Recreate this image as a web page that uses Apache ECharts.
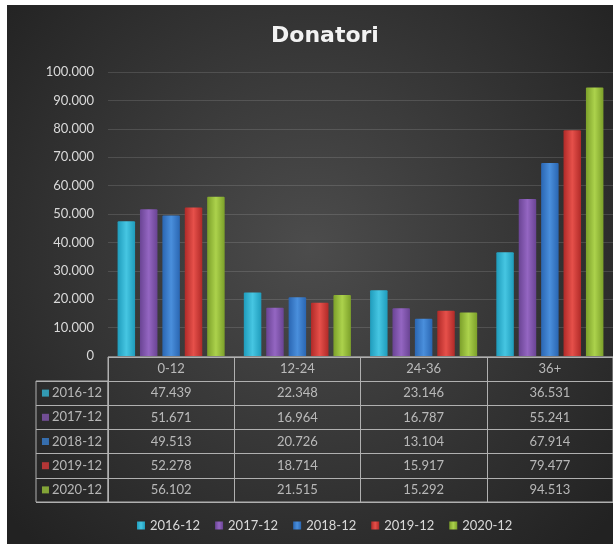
<!DOCTYPE html>
<html>
<head>
<meta charset="utf-8">
<script src="https://cdn.jsdelivr.net/npm/echarts@6/dist/echarts.min.js"></script>
<style>
html,body{margin:0;padding:0;background:#fff;}
#c{width:613px;height:544px;}
</style>
</head>
<body>
<div id="c"></div>
<script>
var categories = ['0-12', '12-24', '24-36', '36+'];
var seriesNames = ['2016-12', '2017-12', '2018-12', '2019-12', '2020-12'];
var v2016 = [47439, 22348, 23146, 36531];
var v2017 = [51671, 16964, 16787, 55241];
var v2018 = [49513, 20726, 13104, 67914];
var v2019 = [52278, 18714, 15917, 79477];
var v2020 = [56102, 21515, 15292, 94513];
var yTicks = [0, 10000, 20000, 30000, 40000, 50000, 60000, 70000, 80000, 90000, 100000];

var values = [v2016, v2017, v2018, v2019, v2020];
var colors = [
  ['#1f9cbc', '#46c6e2'],
  ['#6a4494', '#9466c2'],
  ['#2a66b2', '#4a8fdc'],
  ['#b02a28', '#e6504a'],
  ['#7ca02a', '#acd24c']
];
var flat = ['#34b6d6', '#8458b0', '#3a7fd0', '#d43a3a', '#9bc43c'];
var FONT = 'Lato';
var TXT = '#d9d9d9';
var LINE = '#b0b0b0';

function fmt(v) { return String(v).replace(/\B(?=(\d{3})+(?!\d))/g, '.'); }
function grad(i) {
  return new echarts.graphic.LinearGradient(0, 0, 1, 0, [
    {offset: 0, color: colors[i][0]},
    {offset: 0.5, color: colors[i][1]},
    {offset: 1, color: colors[i][0]}
  ]);
}

var chart = echarts.init(document.getElementById('c'), null, {renderer: 'canvas'});

var series = [];
seriesNames.forEach(function (n, i) {
  series.push({
    name: n, type: 'bar', xAxisIndex: 0, yAxisIndex: 0,
    data: values[i], barWidth: 17.5, barGap: '28%',
    itemStyle: {color: grad(i), borderRadius: [1, 1, 0, 0]},
    emphasis: {disabled: true}
  });
});

var cellData = [];
categories.forEach(function (c) { cellData.push([c, 'hdr', c]); });
seriesNames.forEach(function (n, i) {
  categories.forEach(function (c, j) { cellData.push([c, n, fmt(values[i][j])]); });
});
series.push({
  name: 'cells', type: 'scatter', xAxisIndex: 1, yAxisIndex: 1,
  data: cellData, symbolSize: 0.1, itemStyle: {color: 'transparent'},
  label: {show: true, position: 'inside', formatter: function (p) { return p.value[2]; },
    color: TXT, fontSize: 13, fontFamily: FONT},
  silent: true
});

var rich = {t: {color: TXT, fontSize: 13, fontFamily: FONT, padding: [0, 0, 0, 3]}};
seriesNames.forEach(function (n, i) {
  rich['i' + i] = {width: 7, height: 7, backgroundColor: flat[i]};
});
series.push({
  name: 'rows', type: 'scatter', xAxisIndex: 2, yAxisIndex: 2,
  data: seriesNames.map(function (n, i) { return ['', n, i]; }),
  symbolSize: 0.1, itemStyle: {color: 'transparent'},
  label: {show: true, position: 'inside',
    formatter: function (p) { return '{i' + p.value[2] + '|}{t|' + p.value[1] + '}'; },
    rich: rich},
  silent: true
});

chart.setOption({
  animation: false,
  backgroundColor: '#ffffff',
  graphic: [{
    type: 'rect', z: -100, silent: true,
    shape: {x: 7, y: 5, width: 606, height: 539},
    style: {fill: new echarts.graphic.RadialGradient(0.5, 0.45, 0.75, [
      {offset: 0, color: '#4c4c4c'}, {offset: 1, color: '#222222'}])}
  }],
  title: {
    text: 'Donatori', left: 266, top: 20,
    textStyle: {color: '#f2f2f2', fontSize: 22, fontWeight: 'bold', fontFamily: 'DejaVu Sans'}
  },
  legend: {
    data: seriesNames, left: 132, top: 514,
    itemWidth: 8, itemHeight: 8, itemGap: 15, icon: 'rect',
    textStyle: {color: TXT, fontSize: 13, fontFamily: FONT}
  },
  grid: [
    {left: 108, top: 72, width: 507, height: 284},
    {left: 108, top: 357, width: 507, height: 145, show: true, borderColor: LINE, borderWidth: 1, backgroundColor: 'transparent'},
    {left: 36, top: 381, width: 72, height: 121, show: true, borderColor: LINE, borderWidth: 1, backgroundColor: 'transparent'}
  ],
  xAxis: [
    {type: 'category', gridIndex: 0, data: categories, axisLine: {show: false}, axisTick: {show: false}, axisLabel: {show: false}},
    {type: 'category', gridIndex: 1, data: categories, boundaryGap: true, axisLine: {show: false}, axisTick: {show: false}, axisLabel: {show: false},
      splitLine: {show: true, interval: 0, lineStyle: {color: LINE, width: 1}}},
    {type: 'category', gridIndex: 2, data: [''], axisLine: {show: false}, axisTick: {show: false}, axisLabel: {show: false}}
  ],
  yAxis: [
    {type: 'value', gridIndex: 0, min: 0, max: 100000, interval: 10000,
      axisLine: {show: false}, axisTick: {show: false},
      axisLabel: {color: TXT, fontSize: 13, fontFamily: FONT, margin: 14, formatter: function (v) { return fmt(v); }},
      splitLine: {lineStyle: {color: 'rgba(255,255,255,0.13)', width: 1}}},
    {type: 'category', gridIndex: 1, data: ['hdr'].concat(seriesNames), inverse: true, boundaryGap: true,
      axisLine: {show: false}, axisTick: {show: false}, axisLabel: {show: false},
      splitLine: {show: true, interval: 0, lineStyle: {color: LINE, width: 1}}},
    {type: 'category', gridIndex: 2, data: seriesNames, inverse: true, boundaryGap: true,
      axisLine: {show: false}, axisTick: {show: false}, axisLabel: {show: false},
      splitLine: {show: true, interval: 0, lineStyle: {color: LINE, width: 1}}}
  ],
  series: series
});
</script>
</body>
</html>
